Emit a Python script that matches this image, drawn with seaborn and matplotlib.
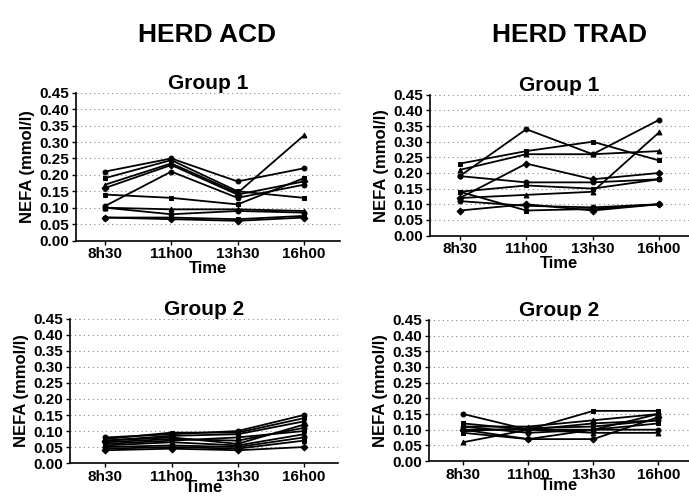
import pandas as pd
import seaborn as sns
import matplotlib.pyplot as plt

# time points and NEFA values (mmol/l)
times = ['8h30', '11h00', '13h30', '16h00']

acd_g1 = [
    [0.21, 0.25, 0.18, 0.22],
    [0.19, 0.245, 0.15, 0.13],
    [0.17, 0.235, 0.145, 0.32],
    [0.16, 0.23, 0.14, 0.18],
    [0.105, 0.21, 0.13, 0.17],
    [0.14, 0.13, 0.11, 0.19],
    [0.10, 0.095, 0.095, 0.09],
    [0.10, 0.08, 0.09, 0.085],
    [0.07, 0.07, 0.065, 0.075],
    [0.07, 0.065, 0.06, 0.07],
]
trad_g1 = [
    [0.19, 0.34, 0.26, 0.37],
    [0.23, 0.27, 0.30, 0.24],
    [0.21, 0.26, 0.26, 0.27],
    [0.12, 0.23, 0.18, 0.20],
    [0.19, 0.17, 0.17, 0.18],
    [0.14, 0.16, 0.15, 0.18],
    [0.12, 0.13, 0.14, 0.33],
    [0.11, 0.095, 0.09, 0.10],
    [0.14, 0.08, 0.085, 0.10],
    [0.08, 0.10, 0.08, 0.10],
]
acd_g2 = [
    [0.08, 0.09, 0.10, 0.15],
    [0.075, 0.095, 0.095, 0.14],
    [0.07, 0.085, 0.09, 0.13],
    [0.07, 0.08, 0.06, 0.12],
    [0.065, 0.075, 0.07, 0.11],
    [0.06, 0.07, 0.08, 0.10],
    [0.055, 0.065, 0.055, 0.09],
    [0.05, 0.055, 0.05, 0.08],
    [0.045, 0.05, 0.045, 0.07],
    [0.04, 0.045, 0.04, 0.05],
]
trad_g2 = [
    [0.15, 0.10, 0.10, 0.15],
    [0.12, 0.10, 0.16, 0.16],
    [0.11, 0.11, 0.13, 0.15],
    [0.10, 0.07, 0.07, 0.14],
    [0.10, 0.10, 0.12, 0.13],
    [0.09, 0.07, 0.10, 0.12],
    [0.06, 0.10, 0.09, 0.09],
    [0.11, 0.09, 0.10, 0.10],
    [0.095, 0.105, 0.11, 0.13],
]

marker_cycle = ['o', 's', '^', 'D', 'o', 's', '^', 'o', 's', 'D']

sns.set_theme(style="white")
plt.rcParams['font.family'] = ['Liberation Sans', 'DejaVu Sans']
for k in ['text.color', 'axes.labelcolor', 'xtick.color', 'ytick.color']:
    plt.rcParams[k] = 'black'

fig = plt.figure(figsize=(6.89, 4.99), dpi=100)

# data, axes rect, x limits, title, label pad for "Time"
panels = [
    (acd_g1, [0.110, 0.518, 0.383, 0.296], (-0.44, 3.54), 'Group 1', 0),
    (trad_g1, [0.624, 0.528, 0.376, 0.282], (-0.45, 3.45), 'Group 1', 0),
    (acd_g2, [0.102, 0.072, 0.388, 0.289], (-0.53, 3.51), 'Group 2', -3),
    (trad_g2, [0.623, 0.076, 0.377, 0.283], (-0.52, 3.47), 'Group 2', -3),
]

for data, pos, xl, title, lp in panels:
    ax = fig.add_axes(pos)
    rows = []
    for i, series in enumerate(data):
        for t, v in zip(times, series):
            rows.append({'time': t, 'nefa': v, 'animal': f'a{i}'})
    df = pd.DataFrame(rows)
    sns.lineplot(data=df, x='time', y='nefa', style='animal',
                 markers=marker_cycle[:len(data)], dashes=False,
                 color='black', linewidth=1.3, markersize=3.5,
                 markeredgecolor='black', legend=False, sort=False, ax=ax)
    ax.set_ylim(0, 0.45)
    ax.set_xlim(*xl)
    ax.set_yticks([0.00, 0.05, 0.10, 0.15, 0.20, 0.25, 0.30, 0.35, 0.40, 0.45])
    ax.set_yticklabels([f'{v:.2f}' for v in ax.get_yticks()], fontsize=11,
                       fontweight='bold')
    ax.set_xticks(range(len(times)))
    ax.set_xticklabels(times, fontsize=11, fontweight='bold')
    ax.yaxis.grid(True, linestyle=(0, (1, 3)), color='#888888', linewidth=0.8)
    ax.xaxis.grid(False)
    sns.despine(ax=ax)
    for s in ['left', 'bottom']:
        ax.spines[s].set_color('black')
        ax.spines[s].set_linewidth(1.2)
    ax.tick_params(axis='both', which='both', direction='out', length=3,
                   width=1, color='black', pad=2, left=True, bottom=True)
    ax.set_xlabel('Time', fontsize=12, fontweight='bold', labelpad=lp)
    ax.set_ylabel('NEFA (mmol/l)', fontsize=12, fontweight='bold', labelpad=3)
    ax.set_title(title, fontsize=15, fontweight='bold', pad=2)

fig.text(0.300, 0.93, 'HERD ACD', ha='center', va='center',
         fontsize=19, fontweight='bold')
fig.text(0.826, 0.93, 'HERD TRAD', ha='center', va='center',
         fontsize=19, fontweight='bold')

fig.savefig('out.png', dpi=100)
